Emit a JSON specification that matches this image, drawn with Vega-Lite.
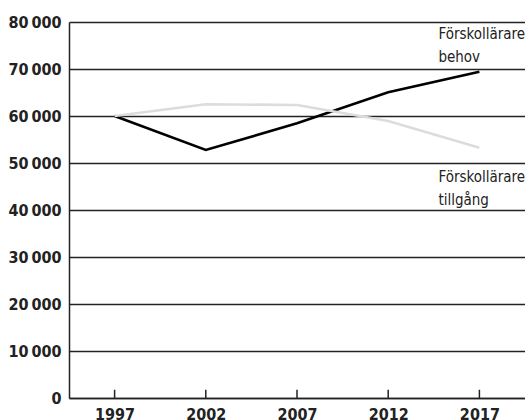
{
  "$schema": "https://vega.github.io/schema/vega-lite/v6.json",
  "width": 456,
  "height": 376,
  "autosize": {"type": "none"},
  "padding": {"left": 69, "top": 22, "right": 0, "bottom": 22},
  "background": "white",
  "config": {
    "view": {"stroke": null},
    "font": "DejaVu Sans Condensed"
  },
  "datasets": {
    "lines": [
      {"year": "1997", "serie": "behov", "value": 60000},
      {"year": "2002", "serie": "behov", "value": 52770},
      {"year": "2007", "serie": "behov", "value": 58440},
      {"year": "2012", "serie": "behov", "value": 65040},
      {"year": "2017", "serie": "behov", "value": 69430},
      {"year": "1997", "serie": "tillgång", "value": 60000},
      {"year": "2002", "serie": "tillgång", "value": 62490},
      {"year": "2007", "serie": "tillgång", "value": 62340},
      {"year": "2012", "serie": "tillgång", "value": 58940},
      {"year": "2017", "serie": "tillgång", "value": 53260}
    ],
    "labels": [
      {"year": "2017", "value": 76383, "text": "Förskollärare\nbehov"},
      {"year": "2017", "value": 45957, "text": "Förskollärare\ntillgång"}
    ],
    "years": [
      {"year": "1997"}, {"year": "2002"}, {"year": "2007"}, {"year": "2012"}, {"year": "2017"}
    ]
  },
  "layer": [
    {
      "data": {"name": "lines"},
      "mark": {"type": "line", "strokeWidth": 2.6, "strokeJoin": "miter"},
      "encoding": {
        "x": {
          "field": "year", "type": "ordinal",
          "scale": {"type": "point", "padding": 0.5},
          "axis": {
            "title": null, "labelAngle": 0, "labelAlign": "center", "labelBaseline": "top",
            "domainColor": "#222", "domainWidth": 1.5,
            "ticks": false,
            "labelFont": "DejaVu Sans Condensed", "labelFontSize": 16, "labelColor": "#222",
            "labelFontWeight": "bold", "labelPadding": 8, "grid": false
          }
        },
        "y": {
          "field": "value", "type": "quantitative",
          "scale": {"domain": [0, 80000], "nice": false},
          "axis": {
            "title": null, "values": [0, 10000, 20000, 30000, 40000, 50000, 60000, 70000, 80000],
            "labelExpr": "replace(format(datum.value, ','), ',', '\u2009')",
            "ticks": false, "domainColor": "#222", "domainWidth": 1.5,
            "grid": true, "gridColor": "#222", "gridWidth": 1.5, "gridOpacity": 1,
            "labelFont": "DejaVu Sans Condensed", "labelFontSize": 16, "labelColor": "#222",
            "labelFontWeight": "bold", "labelPadding": 8
          }
        },
        "color": {
          "field": "serie", "type": "nominal",
          "scale": {"domain": ["behov", "tillgång"], "range": ["#000000", "#dcdcdc"]},
          "legend": null
        }
      }
    },
    {
      "data": {"name": "years"},
      "mark": {"type": "rule", "color": "#222", "strokeWidth": 1.5},
      "encoding": {
        "x": {"field": "year", "type": "ordinal"},
        "y": {"datum": 0},
        "y2": {"datum": 1750}
      }
    },
    {
      "data": {"name": "labels"},
      "mark": {
        "type": "text", "align": "left", "baseline": "alphabetic", "dx": -41,
        "lineBreak": "\n", "lineHeight": 23, "fontSize": 15, "color": "#222",
        "font": "DejaVu Sans Condensed"
      },
      "encoding": {
        "x": {"field": "year", "type": "ordinal"},
        "y": {"field": "value", "type": "quantitative"},
        "text": {"field": "text"}
      }
    }
  ]
}
